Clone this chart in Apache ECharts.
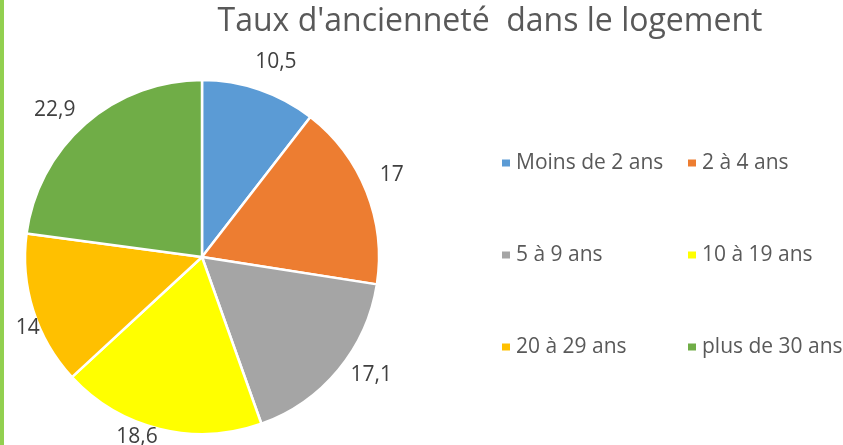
<!DOCTYPE html>
<html>
<head>
<meta charset="utf-8">
<script src="https://cdn.jsdelivr.net/npm/echarts@6/dist/echarts.min.js"></script>
<style>
  html, body { margin: 0; padding: 0; background: #ffffff; }
  #wrap { position: relative; width: 843px; height: 445px; overflow: hidden; }
  #bar { position: absolute; left: 0; top: 0; width: 4px; height: 445px; background: #92d050; z-index: 2; }
  #chart { position: absolute; left: 0; top: 0; width: 843px; height: 445px; }
</style>
</head>
<body>
<div id="wrap"><div id="chart"></div><div id="bar"></div></div>
<script>
const titleText = "Taux d'ancienneté  dans le logement";
const categories = ["Moins de 2 ans", "2 à 4 ans", "5 à 9 ans", "10 à 19 ans", "20 à 29 ans", "plus de 30 ans"];
const values = [10.5, 17, 17.1, 18.6, 14, 22.9];
const colors = ["#5b9bd5", "#ed7d31", "#a5a5a5", "#ffff00", "#ffc000", "#70ad47"];
const legendCol1 = ["Moins de 2 ans", "5 à 9 ans", "20 à 29 ans"];
const legendCol2 = ["2 à 4 ans", "10 à 19 ans", "plus de 30 ans"];
// small nudges of data labels (best-fit placement of the original)
const labelNudgeX = [-13, -3, -2, 6, 23, 3];
const labelNudgeY = [-16, -12, -3, -3, 14, -5];

const FONT = "'Open Sans', 'Noto Sans', sans-serif";
const chart = echarts.init(document.getElementById('chart'), null, { renderer: 'canvas' });

const pieData = categories.map((c, i) => ({ name: c, value: values[i] }));
const fmt = p => String(p.value).replace('.', ',');

const legendBase = {
  orient: 'vertical',
  icon: 'rect',
  padding: 0,
  itemWidth: 10,
  itemHeight: 9,
  itemGap: 70,
  itemTextGap: 9,
  selectedMode: false,
  textStyle: { color: '#595959', fontSize: 21, fontFamily: FONT, lineHeight: 22 }
};

chart.setOption({
  animation: false,
  backgroundColor: '#ffffff',
  color: colors,
  title: {
    text: titleText,
    left: 485,
    top: 1,
    textAlign: 'center',
    textStyle: { color: '#595959', fontSize: 32, fontWeight: 'normal', fontFamily: FONT }
  },
  legend: [
    Object.assign({}, legendBase, { data: legendCol1, left: 500, top: 152 }),
    Object.assign({}, legendBase, { data: legendCol2, left: 686, top: 152 })
  ],
  series: [{
    type: 'pie',
    center: [202, 257],
    radius: 177,
    startAngle: 90,
    clockwise: true,
    avoidLabelOverlap: false,
    itemStyle: { borderColor: '#ffffff', borderWidth: 2.5 },
    label: {
      show: true,
      position: 'outside',
      formatter: fmt,
      color: '#404040',
      fontSize: 21,
      fontFamily: FONT
    },
    labelLine: { show: false, length: 12, length2: 0 },
    labelLayout: p => ({ dx: labelNudgeX[p.dataIndex], dy: labelNudgeY[p.dataIndex] }),
    emphasis: { disabled: true },
    data: pieData
  }]
});
</script>
</body>
</html>
